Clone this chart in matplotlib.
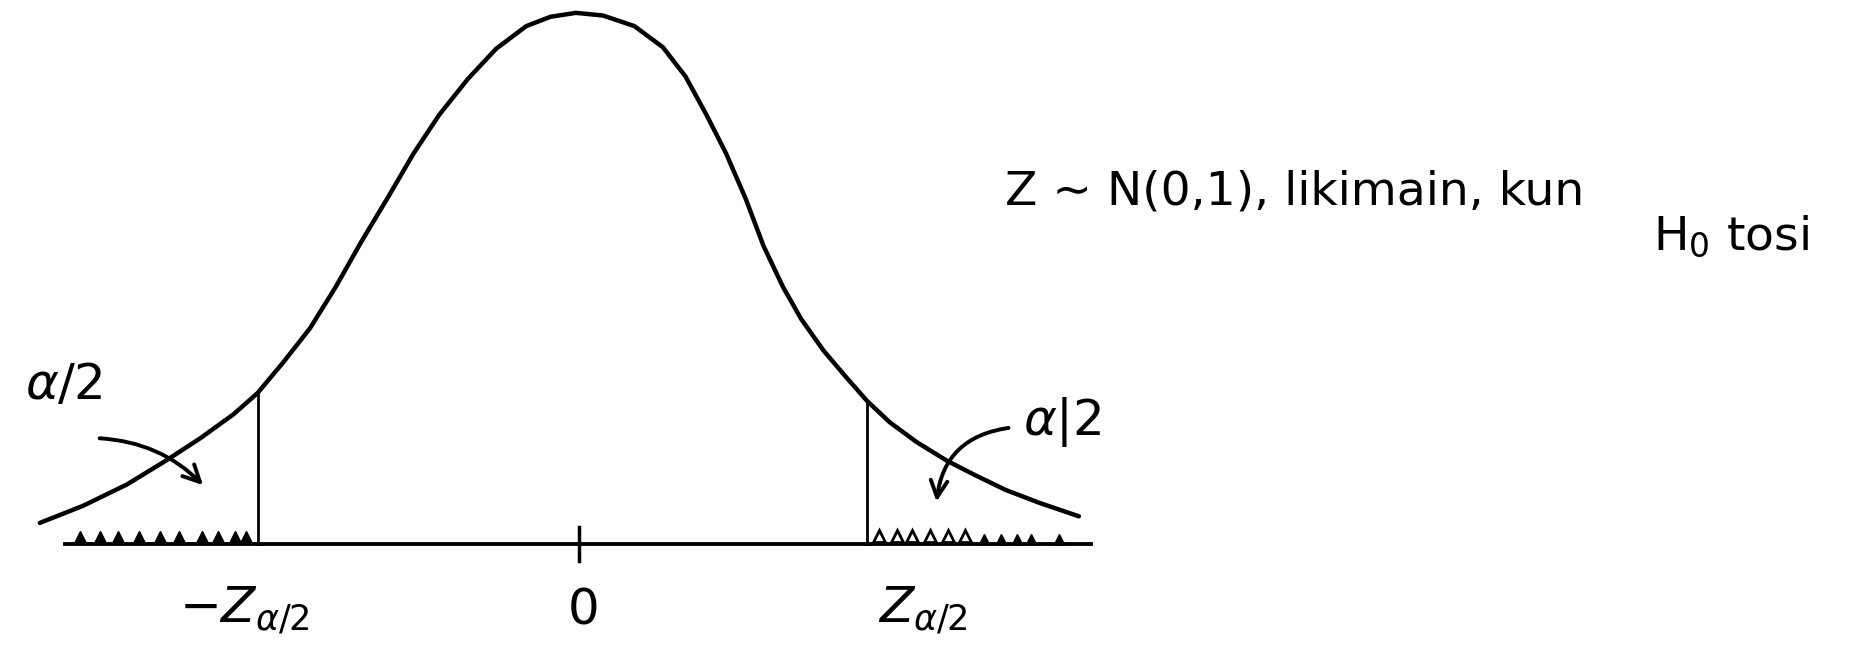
import numpy as np
import matplotlib
matplotlib.use('Agg')
import matplotlib.pyplot as plt

# hand drawn bell curve (x in z units, y density)
curve_z = [-3.57, -3.28, -2.99, -2.73, -2.50, -2.28, -2.12, -1.95, -1.77, -1.60,
           -1.43, -1.25, -1.08, -0.91, -0.72, -0.53, -0.33, -0.17, 0.0, 0.18,
           0.39, 0.58, 0.73, 0.87, 1.00, 1.13, 1.25, 1.38, 1.50, 1.65,
           1.80, 1.94, 2.09, 2.27, 2.47, 2.66, 2.86, 3.09, 3.35]
curve_y = [0.016, 0.029, 0.045, 0.063, 0.080, 0.098, 0.114, 0.137, 0.163, 0.194,
           0.228, 0.262, 0.295, 0.324, 0.351, 0.374, 0.391, 0.398, 0.401, 0.399,
           0.391, 0.375, 0.353, 0.324, 0.295, 0.261, 0.225, 0.194, 0.170, 0.146,
           0.126, 0.108, 0.092, 0.077, 0.063, 0.052, 0.041, 0.031, 0.021]

z_crit_left = -2.12
z_crit_right = 1.94
crit_height_left = 0.114
crit_height_right = 0.108

axis_range = [-3.40, 3.43]

# scallops marking the rejection regions
left_marks = [-3.30, -3.17, -3.05, -2.91, -2.77, -2.64, -2.49, -2.38, -2.27, -2.20]
right_marks_open = [2.02, 2.14, 2.24, 2.36, 2.48, 2.59]
right_marks_filled = [2.72, 2.83, 2.94, 3.03, 3.22]

tick_labels = [r'$-Z_{\alpha/2}$', '0', r'$Z_{\alpha/2}$']
tick_pos = [-2.21, 0.05, 2.31]

fig = plt.figure(figsize=(18.54, 6.66), dpi=100)
ax = fig.add_axes([0, 0, 1, 1])
ax.set_xlim(-3.835, 8.512)
ax.set_ylim(-0.092, 0.4107)
ax.axis('off')

ink = 'black'

ax.plot(curve_z, curve_y, color=ink, lw=3.2, solid_capstyle='round', solid_joinstyle='round')
ax.plot(axis_range, [0, 0], color=ink, lw=2.8)
ax.plot([z_crit_left, z_crit_left], [0, crit_height_left], color=ink, lw=2.0)
ax.plot([z_crit_right, z_crit_right], [0, crit_height_right], color=ink, lw=2.0)
ax.plot([0.02, 0.02], [-0.013, 0.013], color=ink, lw=2.5)

ax.plot(left_marks, [0.005] * len(left_marks), linestyle='none', marker='^',
        ms=8, color=ink)
ax.plot(right_marks_open, [0.006] * len(right_marks_open), linestyle='none', marker='^',
        ms=9, mfc='white', mec=ink, mew=2)
ax.plot(right_marks_filled, [0.004] * len(right_marks_filled), linestyle='none', marker='^',
        ms=7, color=ink)

for pos, lab in zip(tick_pos, tick_labels):
    ax.text(pos, -0.050, lab, fontsize=36, ha='center', va='center')

# alpha/2 labels with curved arrows
ax.text(-3.41, 0.120, r'$\alpha/2$', fontsize=36, ha='center', va='center')
ax.annotate('', xy=(-2.47, 0.043), xytext=(-3.19, 0.080),
            arrowprops=dict(arrowstyle='->', lw=2.8, color=ink,
                            mutation_scale=30,
                            connectionstyle='arc3,rad=-0.2'))
ax.text(2.98, 0.092, r'$\alpha|2$', fontsize=36, ha='left', va='center')
ax.annotate('', xy=(2.40, 0.030), xytext=(2.90, 0.088),
            arrowprops=dict(arrowstyle='->', lw=2.8, color=ink,
                            mutation_scale=30,
                            connectionstyle='arc3,rad=0.4'))

ax.text(2.86, 0.266, 'Z \u223c N(0,1), likimain, kun', fontsize=34,
        ha='left', va='center')
ax.text(8.21, 0.232, r'$\mathregular{H_0}$ tosi', fontsize=34, ha='right', va='center')

fig.savefig('out.png', dpi=100)
